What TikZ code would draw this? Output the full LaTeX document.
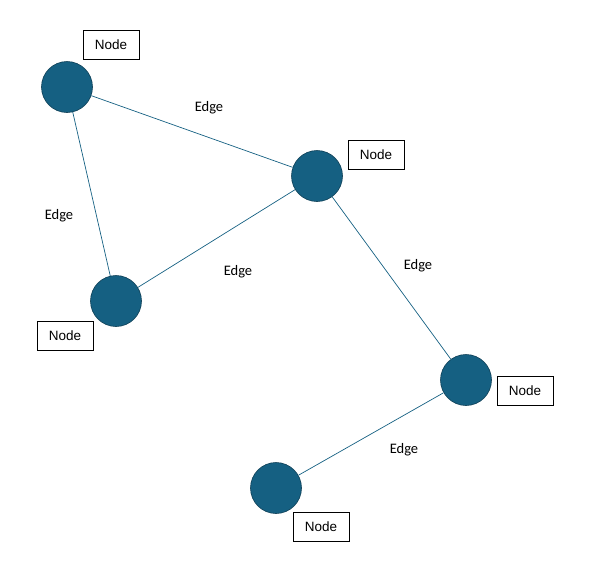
\documentclass[tikz,border=0pt]{standalone}
\usepackage{fontspec}
\setmainfont{Liberation Sans}
\newfontfamily\edgefont{Carlito}
\definecolor{nodeblue}{HTML}{156082}
\definecolor{nodeline}{HTML}{0E3F56}
\begin{document}
\begin{tikzpicture}[x=1pt, y=-1pt,
		vertex/.style={circle, fill=nodeblue, draw=nodeline, line width=0.6pt, inner sep=0pt, minimum size=51pt},
		tag/.style={draw, line width=0.8pt, minimum width=56pt, minimum height=29pt, inner sep=0pt, font=\fontsize{13.5}{15}\selectfont},
		elabel/.style={font=\edgefont\fontsize{14.5}{16}\selectfont, inner sep=0pt},
		link/.style={draw=nodeblue, line width=0.7pt}]
			\useasboundingbox (0, 0) rectangle (595, 566);
			\node[vertex] (v1) at (67, 87) {};
			\node[vertex] (v2) at (317, 176) {};
			\node[vertex] (v3) at (116, 301) {};
			\node[vertex] (v4) at (466, 380) {};
			\node[vertex] (v5) at (276, 488) {};
			\node[tag] (t1) at (111, 45) {Node};
			\node[tag] (t2) at (376, 155) {Node};
			\node[tag] (t3) at (65, 336) {Node};
			\node[tag] (t4) at (525, 391) {Node};
			\node[tag] (t5) at (321, 527) {Node};
			\draw[link] (v1) -- (v2);
			\draw[link] (v1) -- (v3);
			\draw[link] (v2) -- (v3);
			\draw[link] (v2) -- (v4);
			\draw[link] (v4) -- (v5);
			\node[elabel] (e12) at (209, 108) {Edge};
			\node[elabel] (e13) at (59, 216) {Edge};
			\node[elabel] (e23) at (238, 272) {Edge};
			\node[elabel] (e24) at (418, 266) {Edge};
			\node[elabel] (e45) at (404, 450) {Edge};
		\end{tikzpicture}
\end{document}
